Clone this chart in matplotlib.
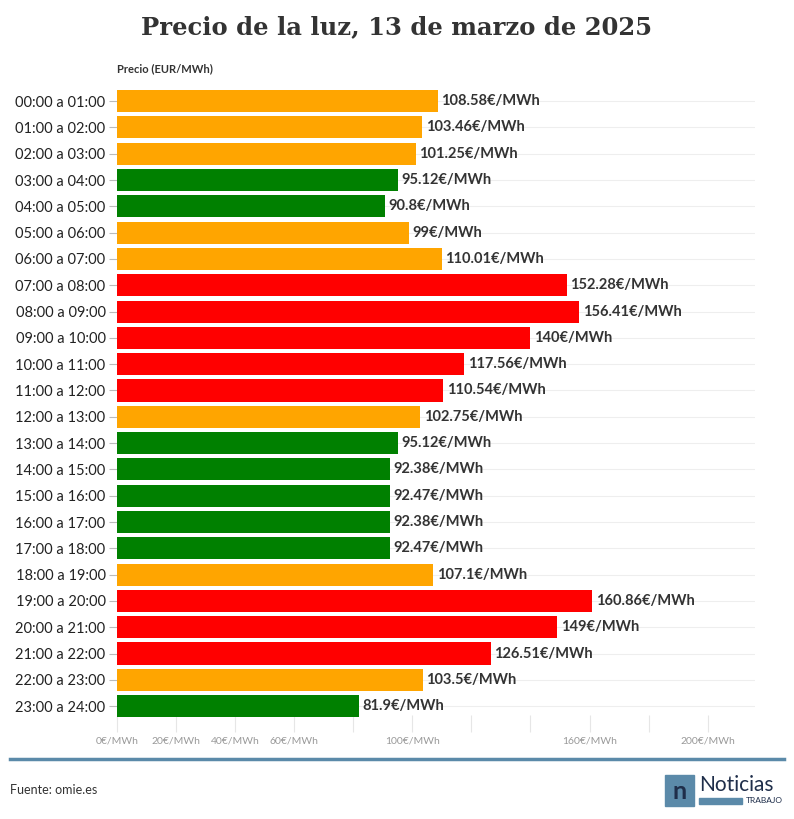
import matplotlib.pyplot as plt
from matplotlib.patches import Rectangle

hours = [f"{h:02d}:00 a {h + 1:02d}:00" for h in range(24)]
prices = [108.58, 103.46, 101.25, 95.12, 90.8, 99, 110.01, 152.28, 156.41, 140,
          117.56, 110.54, 102.75, 95.12, 92.38, 92.47, 92.38, 92.47, 107.1, 160.86,
          149, 126.51, 103.5, 81.9]
price_labels = ["108.58", "103.46", "101.25", "95.12", "90.8", "99", "110.01", "152.28",
                "156.41", "140", "117.56", "110.54", "102.75", "95.12", "92.38", "92.47",
                "92.38", "92.47", "107.1", "160.86", "149", "126.51", "103.5", "81.9"]
shown_ticks = [0, 20, 40, 60, 100, 160, 200]


def bar_color(p):
    if p < 99:
        return "#008000"
    if p < 110.3:
        return "#ffa500"
    return "#ff0000"


plt.rcParams["font.family"] = ["Lato", "DejaVu Sans"]
fig = plt.figure(figsize=(7.94, 8.19), dpi=100)
ax = fig.add_axes([0.147, 0.106, 0.804, 0.7866])

y = list(range(24))
ax.barh(y, prices, height=0.84, color=[bar_color(p) for p in prices], zorder=2)
for yi, p, lab in zip(y, prices, price_labels):
    ax.text(p + 1.2, yi, f"{lab}€/MWh", va="center", ha="left",
            fontsize=10.5, fontweight="bold", color="#333333")

ax.set_ylim(23.99, -0.5)
ax.set_xlim(0, 216)
ax.set_yticks(y)
ax.set_yticklabels(hours, fontsize=10.5, color="#222222")
ax.tick_params(axis="y", length=6, color="#bbbbbb", pad=2)
ax.set_xticks(range(0, 201, 20))
ax.set_xticklabels([f"{t}€/MWh" if t in shown_ticks else "" for t in range(0, 201, 20)],
                   fontsize=7.5, color="#999999")
ax.tick_params(axis="x", length=12, color="#e6e6e6", direction="in", pad=3)
for yi in y:
    ax.axhline(yi, color="#eeeeee", lw=0.8, zorder=1)
for s in ax.spines.values():
    s.set_visible(False)

fig.text(0.5, 0.967, "Precio de la luz, 13 de marzo de 2025", ha="center", va="center",
         fontsize=17.5, fontweight="bold", family=["DejaVu Serif"], color="#333333")
fig.text(0.147, 0.916, "Precio (EUR/MWh)", ha="left", va="center", fontsize=8,
         fontweight="bold", color="#333333")
fig.add_artist(plt.Line2D([0.013, 0.987], [0.073, 0.073], color="#5b8aa9", lw=2.5))
fig.text(0.013, 0.036, "Fuente: omie.es", ha="left", va="center", fontsize=9, color="#333333")

# logo
fig.add_artist(Rectangle((0.838, 0.016), 0.036, 0.038, color="#5b8aa9", transform=fig.transFigure))
fig.text(0.856, 0.034, "n", ha="center", va="center", fontsize=18, fontweight="bold",
         color="#1f2e4a")
fig.text(0.88, 0.042, "Noticias", ha="left", va="center", fontsize=15, color="#1f2e4a")
fig.add_artist(Rectangle((0.88, 0.018), 0.055, 0.008, color="#5b8aa9", transform=fig.transFigure))
fig.text(0.986, 0.022, "TRABAJO", ha="right", va="center", fontsize=6, color="#1f2e4a")

fig.savefig("out.png", dpi=100)
